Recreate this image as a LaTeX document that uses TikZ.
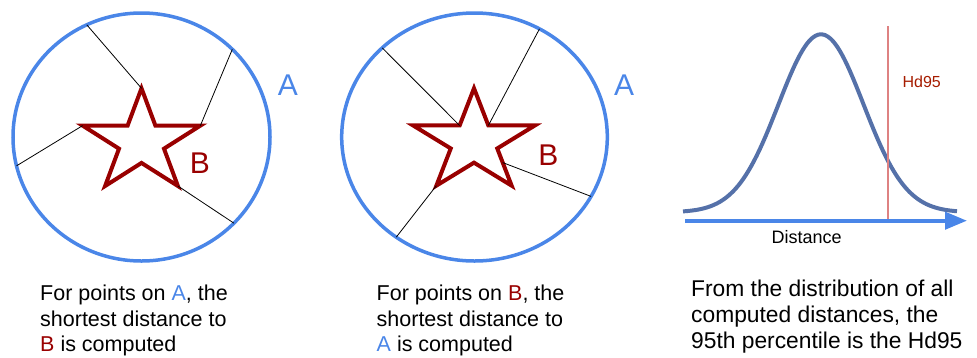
\documentclass[tikz,border=0pt]{standalone}
\usepackage{fontspec}
\setmainfont{Liberation Sans}
\usetikzlibrary{shapes.geometric,arrows.meta,calc}
\definecolor{setA}{HTML}{4A86E8}
\definecolor{setB}{HTML}{990000}
\definecolor{bell}{RGB}{66,98,160}
\definecolor{hdline}{RGB}{222,130,130}
\definecolor{hdtext}{HTML}{A61C00}

% ten star vertices: name, centre x, centre y, outer radius, vertical radius
\newcommand{\starpts}[5]{%
  \foreach \i in {0,...,9}{
    \pgfmathsetmacro{\f}{isodd(\i) ? 0.382 : 1}
    \coordinate (#1\i) at ($(#2,#3)+({270+36*\i}:{\f*#4} and {\f*#5})$);
  }}

\begin{document}
\begin{tikzpicture}[x=1pt,y=-1pt,
  ring/.style={draw=setA, line width=3.5pt, ellipse, inner sep=0pt, outer sep=0pt},
  starline/.style={draw=setB, line width=4pt, line join=miter},
  dist/.style={draw=black, line width=0.8pt},
  lblA/.style={text=setA, font=\fontsize{30}{30}\selectfont},
  lblB/.style={text=setB, font=\fontsize{30}{30}\selectfont},
  caption/.style={anchor=base west, align=left, inner sep=0pt, font=\fontsize{21.5}{25.5}\selectfont}]
  \useasboundingbox (0,0) rectangle (977,357);

  % left: from A to B
  \node[ring, minimum width=257, minimum height=248] (A1) at (141.5,137) {};
  \starpts{L}{141.5}{142.3}{61.9}{54}
  \draw[starline] (L0) \foreach \i in {1,...,9}{-- (L\i)} -- cycle;
  \draw[dist] (A1.116.5) -- (L0);
  \draw[dist] (A1.44) -- (L2);
  \draw[dist] (A1.193.6) -- (L8);
  \draw[dist] (L4) -- (A1.-43.9);
  \node[lblA] (nameA1) at (288,85) {A};
  \node[lblB] (nameB1) at (200,163) {B};

  % middle: from B to A
  \node[ring, minimum width=265.6, minimum height=248] (A2) at (474.5,137) {};
  \starpts{M}{474}{142.1}{64}{53.8}
  \draw[starline] (M0) \foreach \i in {1,...,9}{-- (M\i)} -- cycle;
  \draw[dist] (A2.136.9) -- (M9);
  \draw[dist] (A2.59.8) -- (M1);
  \draw[dist] ($(M3)!0.38!(M4)$) -- (A2.-27.2);
  \draw[dist] (M6) -- (A2.232.6);
  \node[lblA] (nameA2) at (624,85) {A};
  \node[lblB] (nameB2) at (548.3,155) {B};

  % right: distribution of distances
  \coordinate (hdTop) at (888.3,26);
  \coordinate (hdBot) at (888.3,220);
  \draw[bell, line width=4pt, opacity=0.9] plot[domain=683:957, samples=90, smooth]
    (\x, {212.3-178*exp(-((\x-821)/42.5)^2/2)});
  \draw[hdline, line width=2pt] (hdTop) -- (hdBot);
  \coordinate (xStart) at (685,220.7);
  \coordinate (xEnd) at (967,220.7);
  \draw[setA, line width=4pt, -{Triangle[length=22pt, width=17pt]}] (xStart) -- (xEnd);
  \node[font=\fontsize{18}{18}\selectfont] (xlabel) at (806.7,236.7) {Distance};
  \node[text=hdtext, font=\fontsize{16}{16}\selectfont] (hdlabel) at (921.7,81.7) {Hd95};

  % captions (base = last line)
  \node[caption] (capL) at (40,351.7) {For points on \textcolor{setA}{A}, the\\shortest distance to\\\textcolor{setB}{B} is computed};
  \node[caption] (capM) at (376.5,351.7) {For points on \textcolor{setB}{B}, the\\shortest distance to\\\textcolor{setA}{A} is computed};
  \node[caption, font=\fontsize{22.8}{26.3}\selectfont] (capR) at (691,348.6) {From the distribution of all\\computed distances, the\\95th percentile is the Hd95};
\end{tikzpicture}
\end{document}
